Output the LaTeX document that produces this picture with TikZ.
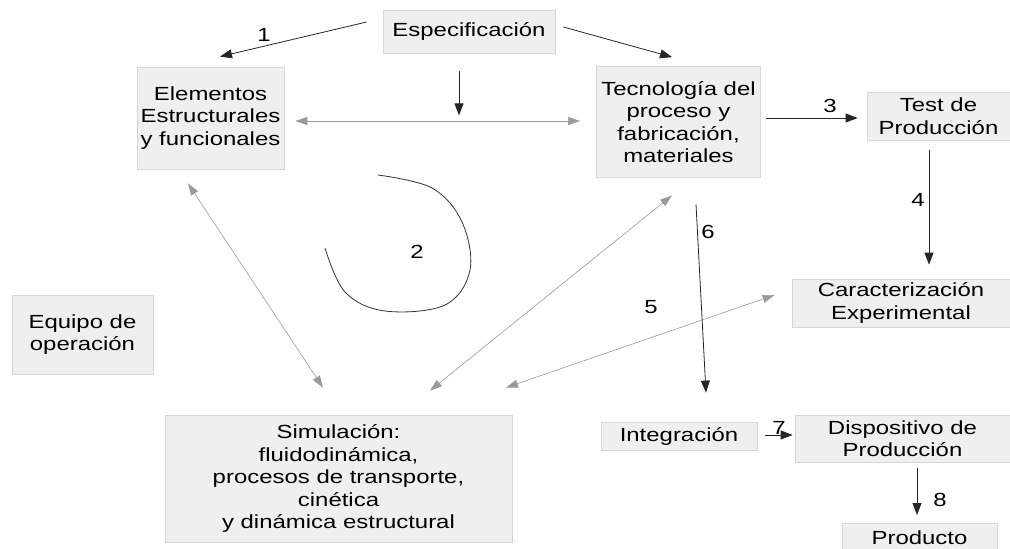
\documentclass[tikz,border=0pt]{standalone}
\usepackage{fontspec}
\setmainfont{Liberation Sans}[FakeStretch=1.26]
\usetikzlibrary{calc,arrows.meta}
\definecolor{boxfill}{HTML}{EFEFEF}
\definecolor{boxline}{HTML}{D6D6D6}
\definecolor{grayarrow}{HTML}{9A9A9A}
\begin{document}
\begin{tikzpicture}[x=1pt,y=-1pt,
  box/.style={draw=boxline,fill=boxfill,line width=0.8pt,inner sep=0pt,align=center,
    font=\fontsize{19}{22.5}\selectfont,text=black},
  blk/.style={draw=black!85,line width=0.8pt,-{Triangle[length=12pt,width=9pt]}},
  gry/.style={draw=grayarrow,line width=0.6pt,{Triangle[length=12pt,width=8pt]}-{Triangle[length=12pt,width=8pt]}},
  lbl/.style={font=\fontsize{19}{22.5}\selectfont,text=black,inner sep=0pt}]
\useasboundingbox (0,0) rectangle (1010,549);
\fill[white] (0,0) rectangle (1010,549);

\node[box,minimum width=172pt,minimum height=43pt] (esp) at (469,31.5) {Especificación};
\node[box,minimum width=147pt,minimum height=102pt] (elem) at (210.5,118) {Elementos\\Estructurales\\y funcionales};
\node[box,minimum width=164pt,minimum height=111pt] (tec) at (678.5,122) {Tecnología del\\proceso y\\fabricación,\\materiales};
\node[box,minimum width=143pt,minimum height=48pt] (test) at (938.5,116) {Test de\\Producción};
\node[box,minimum width=218pt,minimum height=48pt] (car) at (901,303) {Caracterización\\Experimental};
\node[box,minimum width=141pt,minimum height=79pt] (equ) at (82.5,334.5) {Equipo de\\operación};
\node[box,minimum width=347pt,minimum height=127pt] (sim) at (338.5,478.5) {Simulación:\\fluidodinámica,\\procesos de transporte,\\cinética\\y dinámica estructural};
\node[box,minimum width=156pt,minimum height=28pt] (integ) at (679,436) {Integración};
\node[box,minimum width=215pt,minimum height=47pt] (disp) at (902.5,438.5) {Dispositivo de\\Producción};
\node[box,minimum width=155pt,minimum height=28pt,anchor=north] (prod) at (919.5,523) {Producto};

% black arrows
\draw[blk] ($(esp.west)+(-16,-9.5)$) -- ($(elem.north)+(9.5,-10)$);
\draw[blk] ($(esp.east)+(8,-4.5)$) -- ($(tec.north)+(-6.5,-9)$);
\draw[blk] ($(esp.south)+(-10,18)$) -- ($(esp.south)+(-10,62)$);
\draw[blk] ($(tec.east)+(5.5,-4)$) -- ($(test.west)+(-9,2)$);
\draw[blk] ($(test.south)+(-9.5,10)$) -- ($(car.north)+(28,-14)$);
\draw[blk] ($(tec.south)+(17.5,26.5)$) -- ($(integ.north)+(27,-29)$);
\draw[blk] ($(integ.east)+(8,-1)$) -- ($(disp.west)+(-2,-3.5)$);
\draw[blk] ($(disp.south)+(14.5,6)$) -- ($(prod.north)+(-2.5,-8)$);

% gray double arrows
\draw[gry] ($(elem.east)+(11,3)$) -- ($(tec.west)+(-16,-1)$);
\draw[gry] ($(elem.south)+(-22.5,14)$) -- ($(sim.north)+(-15.5,-27)$);
\draw[gry] ($(tec.south)+(-6.5,17.5)$) -- ($(sim.north)+(91.5,-24)$);
\draw[gry] ($(car.west)+(-17,-8)$) -- ($(sim.north)+(167.5,-27)$);

% curve 2
\draw[black!80,line width=0.8pt] plot[smooth,tension=0.6] coordinates
  {(325,248) (345,292) (385,311) (445,305) (470,270) (462,222) (432,188) (378,175)};

% labels
\node[lbl] (l1) at (264,35) {1};
\node[lbl] (l2) at (417,252) {2};
\node[lbl] (l3) at (830,106) {3};
\node[lbl] (l4) at (918,200) {4};
\node[lbl] (l5) at (651,307) {5};
\node[lbl] (l6) at (708,232) {6};
\node[lbl] (l7) at (779,428) {7};
\node[lbl] (l8) at (940,500) {8};
\end{tikzpicture}
\end{document}
